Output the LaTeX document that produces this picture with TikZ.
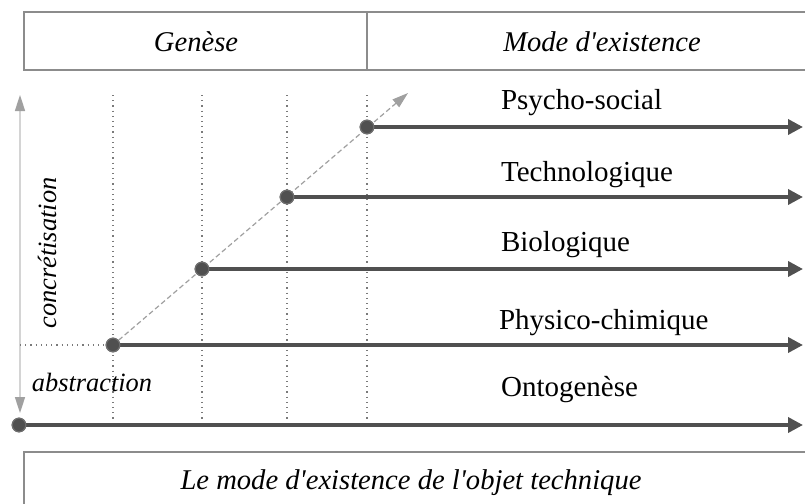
\documentclass[tikz,border=0pt]{standalone}
\usepackage{fontspec}
\setmainfont{Liberation Serif}
\usetikzlibrary{arrows.meta}
\definecolor{boxgray}{HTML}{8C8C8C}
\definecolor{guidegray}{HTML}{7A7A7A}
\definecolor{linegray}{HTML}{505050}
\definecolor{dotgray}{HTML}{6E6E6E}
\definecolor{axisgray}{HTML}{D4D4D4}
\definecolor{tipgray}{HTML}{A0A0A0}
\begin{document}
\begin{tikzpicture}[x=0.5pt,y=-0.5pt,
        frame/.style={draw=boxgray,line width=0.8pt},
        guide/.style={draw=guidegray,dotted,line width=0.6pt},
        mode/.style={draw=linegray,line width=1.8pt,-{Triangle[length=7.5pt,width=7.5pt]}},
        stage/.style={circle,fill=linegray,draw=dotgray,line width=0.6pt,inner sep=0pt,minimum size=6.8pt},
        modelabel/.style={anchor=west,font=\fontsize{14.5}{17}\selectfont},
        titlelabel/.style={font=\fontsize{14.3}{17}\selectfont\itshape},
        sidelabel/.style={font=\fontsize{13.2}{16}\selectfont\itshape}]
        \useasboundingbox (0,0) rectangle (805,504);
        \draw[frame] (805,12) -- (24,12) -- (24,70) -- (805,70);
        \draw[frame] (367,12) -- (367,70);
        \node[titlelabel] (genese) at (196,42) {Genèse};
        \node[titlelabel] (existence) at (602,42) {Mode d\textquotesingle existence};
        \draw[frame] (805,452) -- (24,452) -- (24,508);
        \node[titlelabel] (objet) at (411,483) {Le mode d\textquotesingle existence de l\textquotesingle objet technique};
        \coordinate (axtop) at (20,95);
        \coordinate (axbot) at (20,413);
        \draw[draw=axisgray,line width=0.8pt,{Triangle[length=8pt,width=5pt,color=tipgray]}-{Triangle[length=8pt,width=5pt,color=tipgray]}] (axtop) -- (axbot);
        \foreach \x in {113,202,287,367}
            \draw[guide] (\x,95) -- (\x,422);
        \node[stage] (onto) at (19,425) {};
        \node[stage] (physico) at (113,345) {};
        \node[stage] (bio) at (202,269) {};
        \node[stage] (techno) at (287,197) {};
        \node[stage] (psycho) at (367,127) {};
        \coordinate (diagend) at (408,93);
        \draw[guide] (axtop |- physico) -- (physico);
        \draw[draw=tipgray,line width=0.6pt,dash pattern=on 2.5pt off 1.5pt,-{Triangle[length=8pt,width=5pt]}] (physico) -- (diagend);
        \foreach \n in {onto,physico,bio,techno,psycho}
            \draw[mode] (\n) -- (803,0 |- \n);
        \foreach \n in {onto,physico,bio,techno,psycho}
            \node[stage] at (\n) {};
        \node[modelabel] (lpsycho) at (494,103) {Psycho-social};
        \node[modelabel] (ltechno) at (494,175) {Technologique};
        \node[modelabel] (lbio) at (494,245) {Biologique};
        \node[modelabel] (lphysico) at (492,323) {Physico-chimique};
        \node[modelabel] (lonto) at (494,390) {Ontogenèse};
        \node[sidelabel,rotate=90] (concret) at (47,253) {concrétisation};
        \node[sidelabel] (abstr) at (92,382) {abstraction};
    \end{tikzpicture}
\end{document}
